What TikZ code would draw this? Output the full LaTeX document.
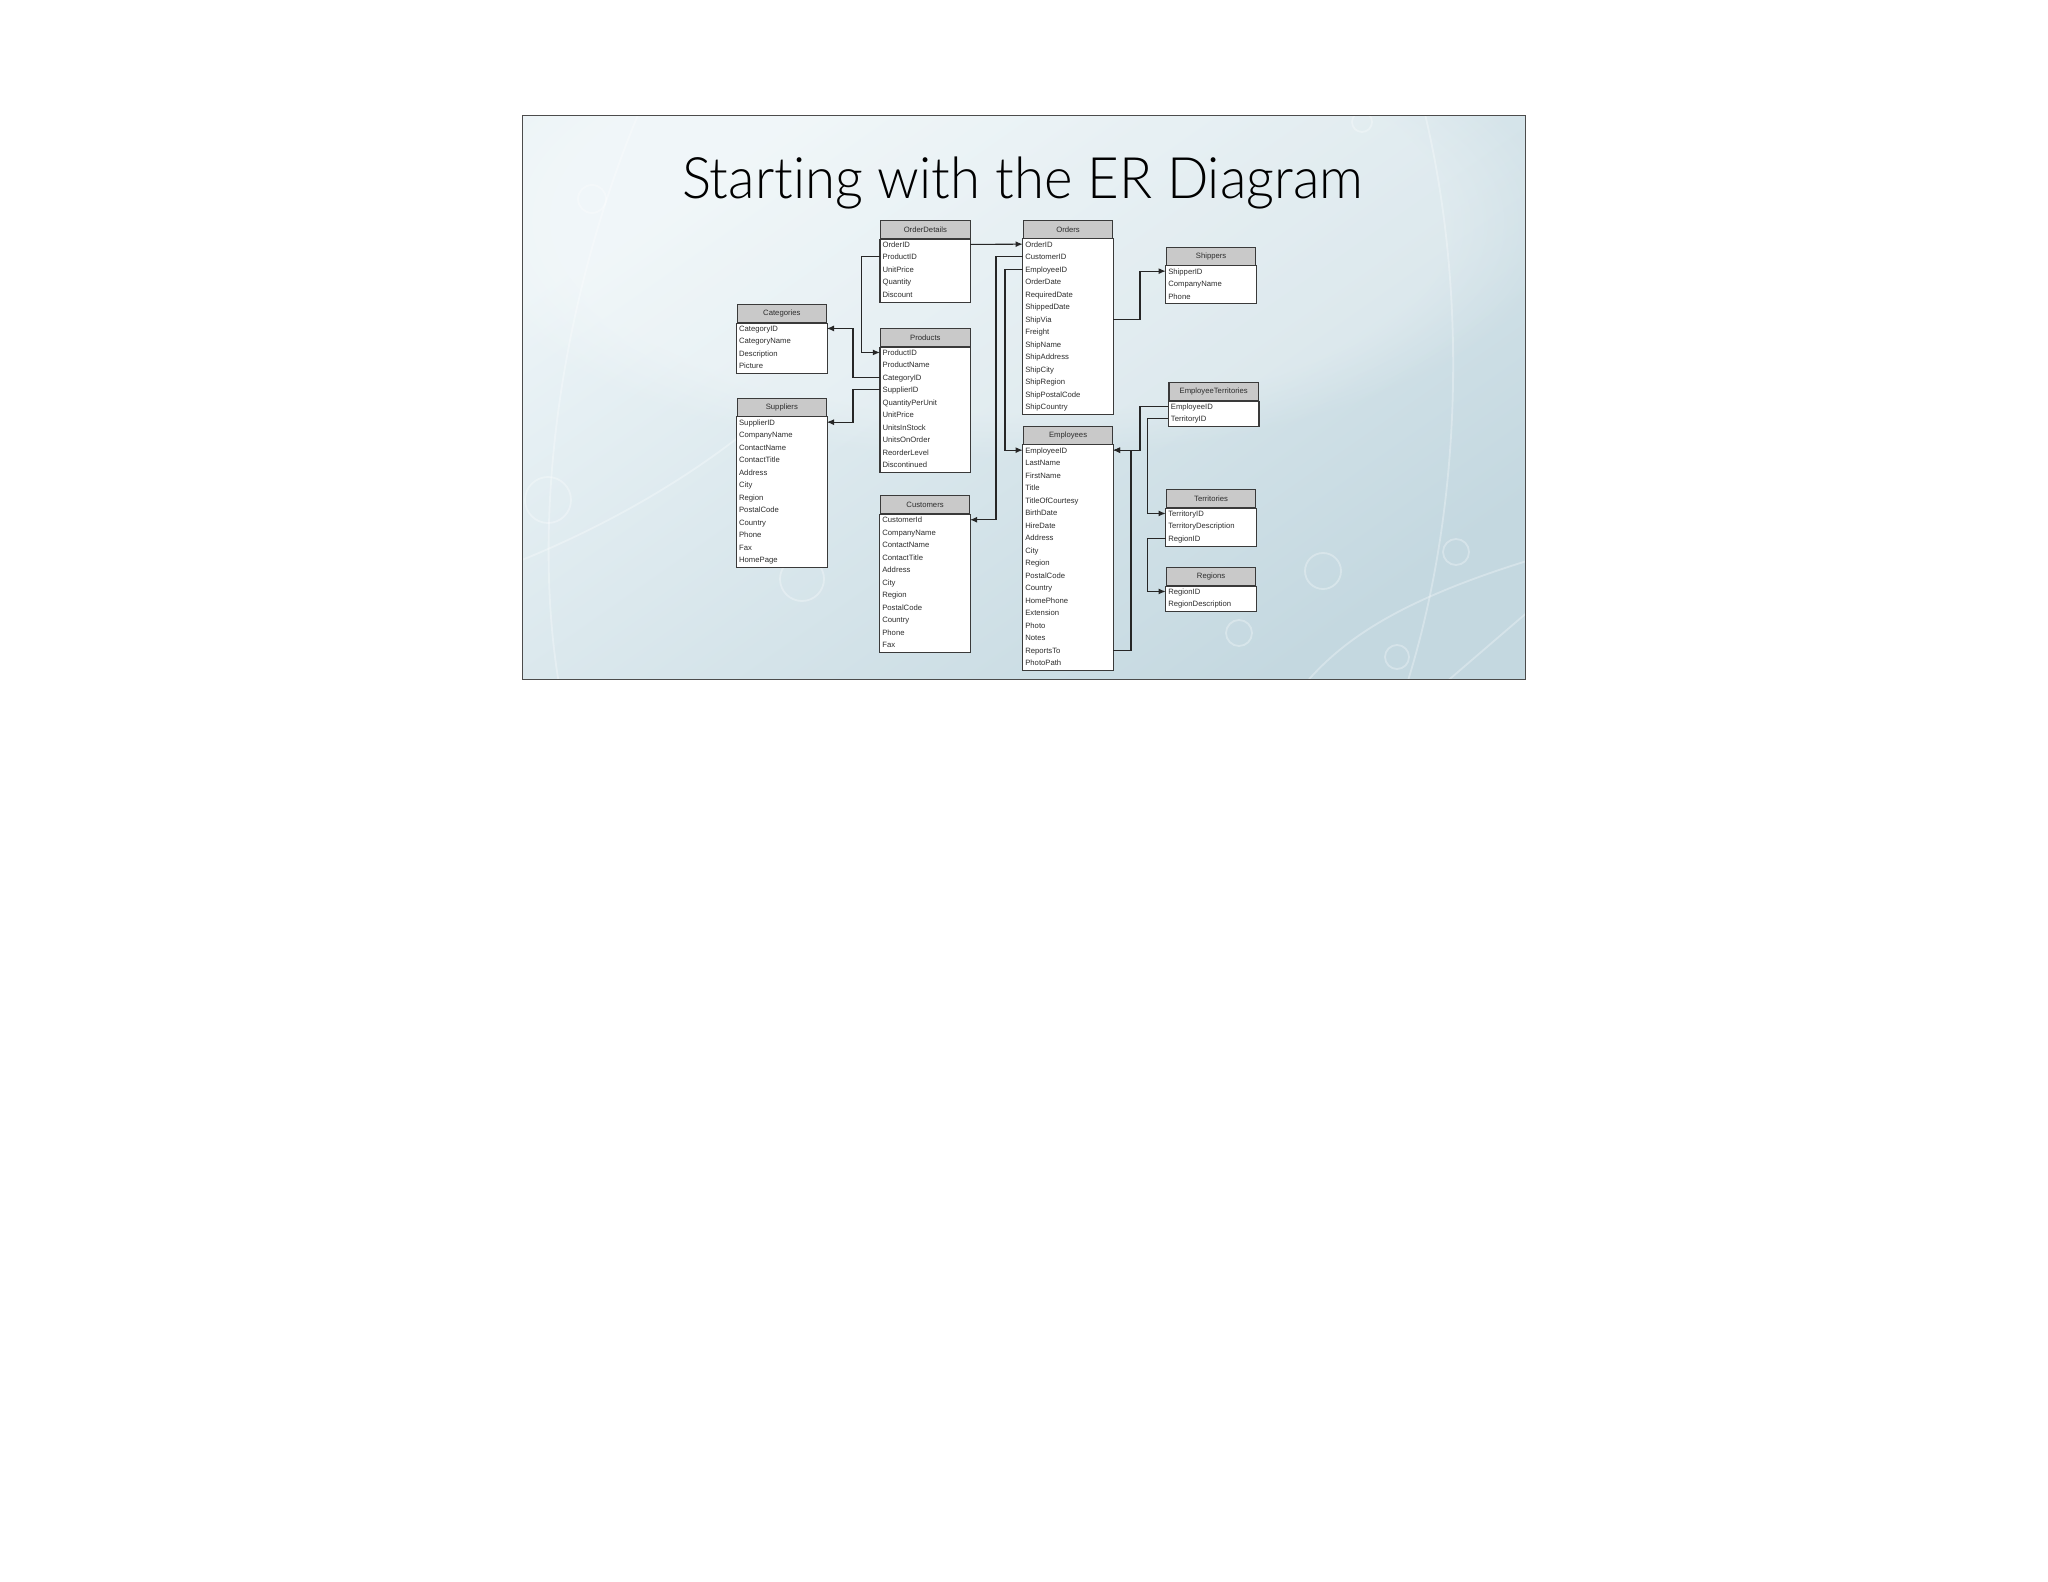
\documentclass[tikz,border=0pt]{standalone}
\usepackage{fontspec}
\usepackage{graphicx}
\usepackage{tikz}
\usetikzlibrary{arrows.meta, calc, fadings}
\setmainfont{Liberation Sans}
\IfFontExistsTF{Lato Light}
  {\newfontfamily\titlefont{Lato Light}[Ligatures={NoCommon}]}
  {\newfontfamily\titlefont{TeX Gyre Heros}}
\newcommand{\fieldfont}{\fontsize{3.85}{4.5}\selectfont}

\definecolor{headgray}{RGB}{201,201,201}
\definecolor{framegray}{RGB}{58,58,58}
\definecolor{textgray}{RGB}{45,45,45}
\definecolor{slidelight}{RGB}{236,244,247}
\definecolor{slidedark}{RGB}{196,216,224}

\tikzset{
  tablehead/.style={draw=framegray, fill=headgray, line width=0.6pt,
    minimum width=44.75pt, minimum height=9pt, inner sep=0pt,
    font=\fieldfont, text=textgray, anchor=north west},
  fieldrow/.style={inner xsep=1.1pt, inner ysep=0pt, text width=42.55pt,
    align=left, text height=3.9pt, text depth=1pt,
    font=\fieldfont, text=textgray, anchor=west},
  tableframe/.style={draw=framegray, fill=white, line width=0.6pt},
  fklink/.style={draw=black!85, line width=0.55pt,
    -{Latex[length=3.6pt, width=3pt]}},
  deco/.style={draw=white, line width=0.9pt, opacity=0.3}
}

% table: name, left, top, title, fields
\newcommand{\ertable}[5]{%
  \node [tablehead] (#1) at (#2, #3) {#4};
  \foreach \fld [count=\i] in {#5} {\xdef\nrows{\i}}
  \draw [tableframe] (#1.south west) rectangle ($(#1.south east) + (0, {\nrows * 12.5 + 0.5})$);
  \foreach \fld [count=\i] in {#5} {
    \node [fieldrow] (#1-\fld) at ($(#1.south west) + (0, {5.25 + (\i - 1) * 12.5})$) {\fld};
  }
}

\begin{document}
\begin{tikzpicture}[x=0.5pt, y=-0.5pt]
    \useasboundingbox (0, 0) rectangle (2048, 1582);
    % slide
    \shade [top color=slidelight, bottom color=slidedark, shading angle=35]
      (522, 116) rectangle (1525, 679);
    \fill [white, path fading=circle with fuzzy edge 20 percent, fill opacity=0.25]
      (1000, 220) ellipse (560 and 240);
    \begin{scope}
      \clip (522, 116) rectangle (1525, 679);
      \draw [deco] (560, 690) .. controls (530, 520) and (560, 300) .. (640, 110);
      \draw [deco] (1424, 110) .. controls (1470, 300) and (1460, 520) .. (1405, 690);
      \draw [deco] (1437, 690) -- (1530, 610);
      \draw [deco] (522, 560) .. controls (620, 520) and (700, 470) .. (760, 420);
      \draw [deco] (1300, 690) .. controls (1340, 640) and (1400, 600) .. (1530, 560);
      \draw [deco] (548, 500) circle (23);
      \draw [deco] (592, 199) circle (14);
      \draw [deco] (1456, 552) circle (13);
      \draw [deco] (1397, 657) circle (12);
      \draw [deco] (1323, 571) circle (18);
      \draw [deco] (802, 579) circle (22);
      \draw [deco] (1239, 633) circle (13);
      \draw [deco] (1362, 122) circle (10);
    \end{scope}
    \draw [gray!60!black, line width=0.5pt] (522, 116) rectangle (1525, 679);
    % title
    \node [anchor=base, inner sep=0pt] (title) at (1022.5, 198.3)
      {\resizebox{340.5pt}{20.8pt}{\titlefont Starting with the ER Diagram}};
    % tables
    \ertable{orderdetails}{880}{220}{OrderDetails}{OrderID,ProductID,UnitPrice,Quantity,Discount}
    \ertable{products}{880}{328}{Products}{ProductID,ProductName,CategoryID,SupplierID,QuantityPerUnit,UnitPrice,UnitsInStock,UnitsOnOrder,ReorderLevel,Discontinued}
    \ertable{categories}{736.5}{304}{Categories}{CategoryID,CategoryName,Description,Picture}
    \ertable{suppliers}{736.5}{397.7}{Suppliers}{SupplierID,CompanyName,ContactName,ContactTitle,Address,City,Region,PostalCode,Country,Phone,Fax,HomePage}
    \ertable{orders}{1022.7}{219.7}{Orders}{OrderID,CustomerID,EmployeeID,OrderDate,RequiredDate,ShippedDate,ShipVia,Freight,ShipName,ShipAddress,ShipCity,ShipRegion,ShipPostalCode,ShipCountry}
    \ertable{shippers}{1165.7}{246.7}{Shippers}{ShipperID,CompanyName,Phone}
    \ertable{emplterr}{1168.3}{382}{EmployeeTerritories}{EmployeeID,TerritoryID}
    \ertable{employees}{1022.7}{425.7}{Employees}{EmployeeID,LastName,FirstName,Title,TitleOfCourtesy,BirthDate,HireDate,Address,City,Region,PostalCode,Country,HomePhone,Extension,Photo,Notes,ReportsTo,PhotoPath}
    \ertable{territories}{1165.7}{489}{Territories}{TerritoryID,TerritoryDescription,RegionID}
    \ertable{regions}{1165.7}{567}{Regions}{RegionID,RegionDescription}
    \ertable{customers}{879.7}{495.3}{Customers}{CustomerId,CompanyName,ContactName,ContactTitle,Address,City,Region,PostalCode,Country,Phone,Fax}
    % links
    \draw [fklink] (orderdetails-OrderID.east) -- (orders-OrderID.west);
    \draw [fklink] (orderdetails-ProductID.west) -- ++(-18.3, 0) |- (products-ProductID.west);
    \draw [fklink] (products-CategoryID.west) -- ++(-27, 0) |- (categories-CategoryID.east);
    \draw [fklink] (products-SupplierID.west) -- ++(-27, 0) |- (suppliers-SupplierID.east);
    \draw [fklink] (orders-CustomerID.west) -- ++(-26.7, 0) |- (customers-CustomerId.east);
    \draw [fklink] (orders-EmployeeID.west) -- ++(-17.7, 0) |- (employees-EmployeeID.west);
    \draw [fklink] (orders-ShipVia.east) -- ++(27, 0) |- (shippers-ShipperID.west);
    \draw [fklink] (emplterr-EmployeeID.west) -- ++(-28.3, 0) |- (employees-EmployeeID.east);
    \draw [fklink] (employees-ReportsTo.east) -- ++(18, 0) |- (employees-EmployeeID.east);
    \draw [fklink] (emplterr-TerritoryID.west) -- ++(-20.6, 0) |- (territories-TerritoryID.west);
    \draw [fklink] (territories-RegionID.west) -- ++(-18, 0) |- (regions-RegionID.west);
\end{tikzpicture}
\end{document}
